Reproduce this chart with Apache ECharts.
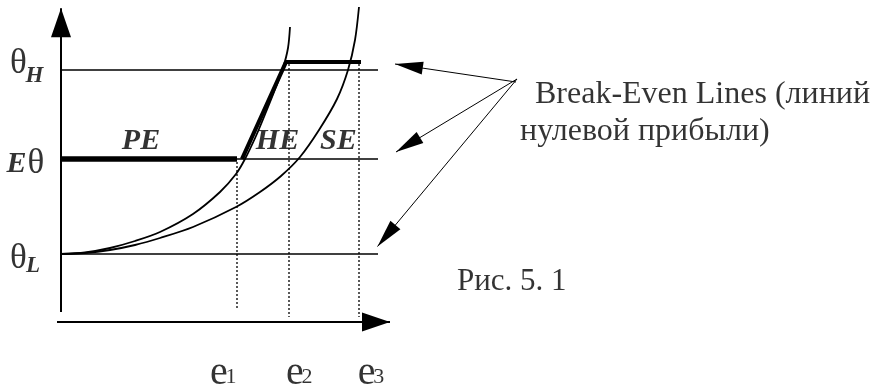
<!DOCTYPE html>
<html>
<head>
<meta charset="utf-8">
<script src="https://cdn.jsdelivr.net/npm/echarts@6/dist/echarts.min.js"></script>
<style>
  html, body { margin: 0; padding: 0; background: #fff; }
  #chart { width: 873px; height: 387px; }
</style>
</head>
<body>
<div id="chart"></div>
<script>
// break-even levels on the vertical axis (θH, Eθ, θL)
const levelValues = [2.52, 1.63, 0.68];
// effort levels e1, e2, e3
const effortValues = [1.76, 2.28, 2.98];
// the two break-even curves
const curveSteep = [[0, 0.68], [0.24, 0.695], [0.49, 0.74], [0.74, 0.81], [0.99, 0.90], [1.32, 1.08], [1.59, 1.30],
  [1.75, 1.48], [1.84, 1.63], [1.95, 1.86], [2.05, 2.10], [2.15, 2.35], [2.22, 2.54], [2.27, 2.74], [2.29, 2.95]];
const curveFlat = [[0, 0.68], [0.24, 0.69], [0.49, 0.72], [0.74, 0.77], [0.99, 0.84], [1.32, 0.95], [1.75, 1.15],
  [1.99, 1.30], [2.20, 1.46], [2.39, 1.65], [2.58, 1.92], [2.76, 2.23], [2.87, 2.52], [2.94, 2.82], [2.98, 3.15]];
// thick equilibrium path: PE part, then HE/SE part
const pePath = [[0, 1.63], [1.76, 1.63]];
const upperPath = [[1.81, 1.63], [2.25, 2.60], [3.00, 2.60]];

const serif = 'Liberation Serif';
const black = '#000';

let chart = echarts.init(document.getElementById('chart'));

function plainLine(data, width, type) {
	return {
		type: 'line',
		data: data,
		symbol: 'none',
		silent: true,
		animation: false,
		lineStyle: {color: black, width: width, type: type || 'solid'}
	};
}

function arrow(from, to, size, width) {
	return [
		{coord: from, symbol: 'none'},
		{coord: to, symbol: 'triangle', symbolSize: size, symbolOffset: [0, '50%'],
			lineStyle: {color: black, width: width, type: 'solid'}}
	];
}

function text(x, y, str, size, extra) {
	return {
		value: [x, y],
		label: Object.assign({
			show: true,
			formatter: str,
			fontFamily: serif,
			fontSize: size,
			color: black,
			position: 'inside',
			align: 'center',
			verticalAlign: 'middle'
		}, extra || {})
	};
}

const bi = {fontStyle: 'italic', fontWeight: 'bold'};
const left = {align: 'left'};

let series = [];

// horizontal break-even lines
levelValues.forEach(v => series.push(plainLine([[0, v], [3.17, v]], 1.7)));

// dotted verticals at e1, e2, e3
series.push(plainLine([[effortValues[0], 1.60], [effortValues[0], 0.12]], 1.3, [2, 2]));
series.push(plainLine([[effortValues[1], 2.58], [effortValues[1], 0.05]], 1.3, [2, 2]));
series.push(plainLine([[effortValues[2], 2.58], [effortValues[2], 0.05]], 1.3, [2, 2]));

// curves
series.push(Object.assign(plainLine(curveSteep, 1.8), {smooth: 0.3}));
series.push(Object.assign(plainLine(curveFlat, 1.8), {smooth: 0.3}));

// thick path
series.push(plainLine(pePath, 5.5));
series.push(plainLine(upperPath, 4.2));

// axes and pointer arrows
series.push({
	type: 'line',
	data: [],
	silent: true,
	animation: false,
	markLine: {
		silent: true,
		animation: false,
		label: {show: false},
		lineStyle: {color: black, width: 2, type: 'solid'},
		itemStyle: {color: black},
		data: [
			arrow([0, 0.10], [0, 3.137], [20, 29], 2),
			arrow([-0.04, 0], [3.29, 0], [19, 28], 2),
			arrow([4.55, 2.40], [3.34, 2.58], [13, 28], 1),
			arrow([4.56, 2.43], [3.35, 1.70], [13, 28], 1),
			arrow([4.56, 2.43], [3.165, 0.755], [13, 28], 1)
		]
	}
});

// texts
series.push({
	type: 'scatter',
	symbolSize: 1,
	silent: true,
	animation: false,
	itemStyle: {color: 'rgba(0,0,0,0)'},
	data: [
		text(-0.427, 2.58, 'θ', 35),
		text(-0.265, 2.46, 'H', 23, bi),
		text(-0.445, 1.58, 'E', 30, bi),
		text(-0.25, 1.58, 'θ', 35),
		text(-0.427, 0.63, 'θ', 35),
		text(-0.28, 0.56, 'L', 23, bi),
		text(0.80, 1.803, 'PE', 30, bi),
		text(2.165, 1.803, 'HE', 30, bi),
		text(2.773, 1.803, 'SE', 30, bi),
		text(1.58, -0.51, 'e', 40),
		text(1.70, -0.55, '1', 22),
		text(2.34, -0.51, 'e', 40),
		text(2.46, -0.55, '2', 22),
		text(3.057, -0.51, 'e', 40),
		text(3.177, -0.55, '3', 22),
		text(4.74, 2.27, 'Break-Even Lines (линий', 32, left),
		text(4.59, 1.903, 'нулевой прибыли)', 32, left),
		text(3.96, 0.40, 'Рис. 5. 1', 31, left)
	]
});

let option = {
	backgroundColor: '#fff',
	animation: false,
	grid: {left: 0, right: 0, top: 0, bottom: 0},
	xAxis: {type: 'value', min: -0.61, max: 8.12, show: false},
	yAxis: {type: 'value', min: -0.65, max: 3.22, show: false},
	series: series
};
chart.setOption(option);
</script>
</body>
</html>
